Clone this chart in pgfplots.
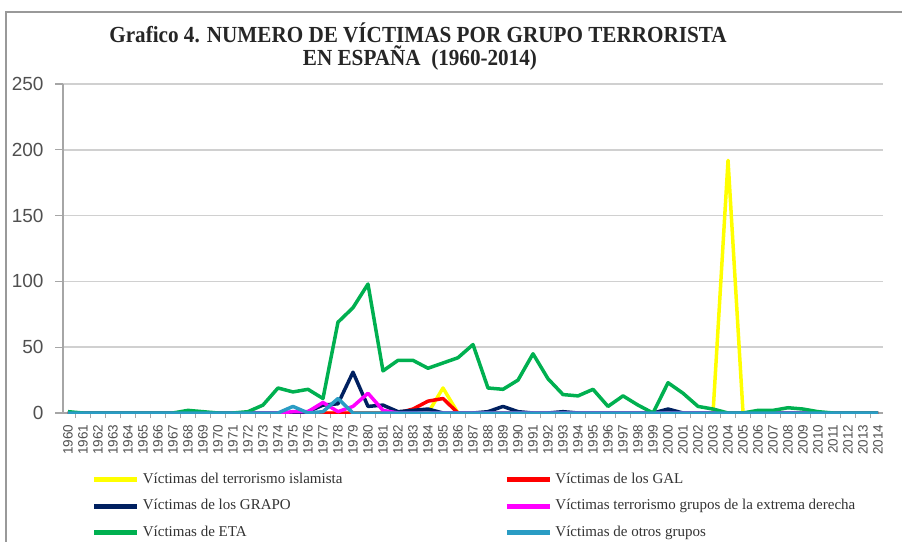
\documentclass[border=0pt]{standalone}
\usepackage{fontspec}
\setmainfont{Liberation Serif}
\newfontfamily\sansf{Liberation Sans}
\newfontfamily\titlef[FakeStretch=0.92]{Liberation Serif}
\usepackage{pgfplots}
\usepackage{pgfplotstable}
\pgfplotsset{compat=1.18}
\definecolor{cYel}{HTML}{FFFF00}
\definecolor{cRed}{HTML}{FF0000}
\definecolor{cNavy}{HTML}{002060}
\definecolor{cMag}{HTML}{FF00FF}
\definecolor{cGreen}{HTML}{00B050}
\definecolor{cTeal}{HTML}{2A9CC4}
\definecolor{cGrid}{HTML}{D0D0D0}
\definecolor{cAxis}{HTML}{A6A6A6}
\definecolor{cLab}{HTML}{505050}
\pgfplotstableread{
year isl gal grapo ultra eta otros
1960 0 0 0 0 1 0
1961 0 0 0 0 0 0
1962 0 0 0 0 0 0
1963 0 0 0 0 0 0
1964 0 0 0 0 0 0
1965 0 0 0 0 0 0
1966 0 0 0 0 0 0
1967 0 0 0 0 0 0
1968 0 0 0 0 2 0
1969 0 0 0 0 1 0
1970 0 0 0 0 0 0
1971 0 0 0 0 0 0
1972 0 0 0 0 1 0
1973 0 0 0 0 6 0
1974 0 0 0 0 19 0
1975 0 0 0 1 16 5
1976 0 0 1 1 18 0
1977 0 0 6 8 11 1
1978 0 0 7 1 69 11
1979 0 0 31 5 80 0
1980 0 0 5 15 98 0
1981 0 0 6 2 32 0
1982 0 0 1 0 40 0
1983 0 3 2 0 40 0
1984 0 9 3 0 34 0
1985 19 11 0 0 38 0
1986 0 0 0 0 42 0
1987 0 0 0 0 52 0
1988 0 0 1 0 19 0
1989 0 0 5 0 18 0
1990 0 0 1 0 25 0
1991 0 0 0 0 45 0
1992 0 0 0 0 26 0
1993 0 0 1 0 14 0
1994 0 0 0 0 13 0
1995 0 0 0 0 18 0
1996 0 0 0 0 5 0
1997 0 0 0 0 13 0
1998 0 0 0 0 6 0
1999 0 0 0 0 0 0
2000 0 0 3 0 23 0
2001 0 0 0 0 15 0
2002 0 0 0 0 5 0
2003 0 0 0 0 3 0
2004 192 0 0 0 0 0
2005 0 0 0 0 0 0
2006 0 0 0 0 2 0
2007 0 0 0 0 2 0
2008 0 0 0 0 4 0
2009 0 0 0 0 3 0
2010 0 0 0 0 1 0
2011 0 0 0 0 0 0
2012 0 0 0 0 0 0
2013 0 0 0 0 0 0
2014 0 0 0 0 0 0
}\datatable
\begin{document}
\begin{tikzpicture}[x=1pt,y=1pt]
\useasboundingbox (0,0) rectangle (902,541);
\fill[white] (0,0) rectangle (902,541);
\draw[color=gray!80, line width=2pt] (6,-5) -- (6,529) -- (910,529);
\node[font=\titlef\bfseries\fontsize{23}{25}\selectfont, color=black!85] at (418,508) {Grafico 4. NUMERO DE VÍCTIMAS POR GRUPO TERRORISTA};
\node[font=\titlef\bfseries\fontsize{23}{25}\selectfont, color=black!85] at (420,483) {EN ESPAÑA\ \ (1960-2014)};
\begin{axis}[
  at={(63pt,128pt)}, anchor=south west, scale only axis,
  width=820pt, height=329pt,
  xmin=1959.67, xmax=2014.33, ymin=0, ymax=250,
  axis lines*=left,
  axis line style={cAxis, line width=1.2pt},
  ytick={0,50,...,250},
  ymajorgrids, grid style={cGrid, line width=1.5pt},
  xtick={1960,...,2014},
  major x tick style={draw=none},
  minor xtick={1960.5,1961.5,...,2013.5},
  minor x tick style={cAxis, line width=0.8pt},
  minor tick length=5pt,
  major tick length=8pt,
  tick align=outside,
  major y tick style={cAxis, line width=1.2pt},
  /pgf/number format/assume math mode=true,
  /pgf/number format/1000 sep={},
  xticklabel={\pgfmathparse{round(\tick)}\pgfmathprintnumber[fixed,precision=0,1000 sep={}]{\pgfmathresult}},
  yticklabel style={font=\sansf\fontsize{19}{21}\selectfont, color=cLab, xshift=-8pt},
  xticklabel style={font=\sansf\fontsize{13.5}{15}\selectfont, color=cLab, rotate=90, anchor=east},
  legend columns=2,
  legend cell align=left,
  legend image code/.code={\draw[#1, line width=5pt] (0pt,0pt) -- (43pt,0pt);},
  legend style={at={(axis description cs:0.035,-0.284)}, anchor=west, draw=none, fill=none,
    font=\fontsize{15}{17}\selectfont, row sep=11.5pt, column sep=3pt, inner sep=0pt,
    nodes={inner sep=0pt, text height=11pt, text depth=4pt, text=black!80},
    /tikz/every even column/.append style={column sep=162pt}},
  every axis plot/.append style={line width=3.5pt, line join=round, mark=none},
]
\addplot[cYel] table[x=year,y=isl]{\datatable};
\addlegendentry{Víctimas del terrorismo islamista}
\addplot[cRed] table[x=year,y=gal]{\datatable};
\addlegendentry{Víctimas de los GAL}
\addplot[cNavy] table[x=year,y=grapo]{\datatable};
\addlegendentry{Víctimas de los GRAPO}
\addplot[cMag] table[x=year,y=ultra]{\datatable};
\addlegendentry{Víctimas terrorismo grupos de la extrema derecha}
\addplot[cGreen] table[x=year,y=eta]{\datatable};
\addlegendentry{Víctimas de ETA}
\addplot[cTeal] table[x=year,y=otros]{\datatable};
\addlegendentry{Víctimas de otros grupos}
\end{axis}
\end{tikzpicture}
\end{document}
